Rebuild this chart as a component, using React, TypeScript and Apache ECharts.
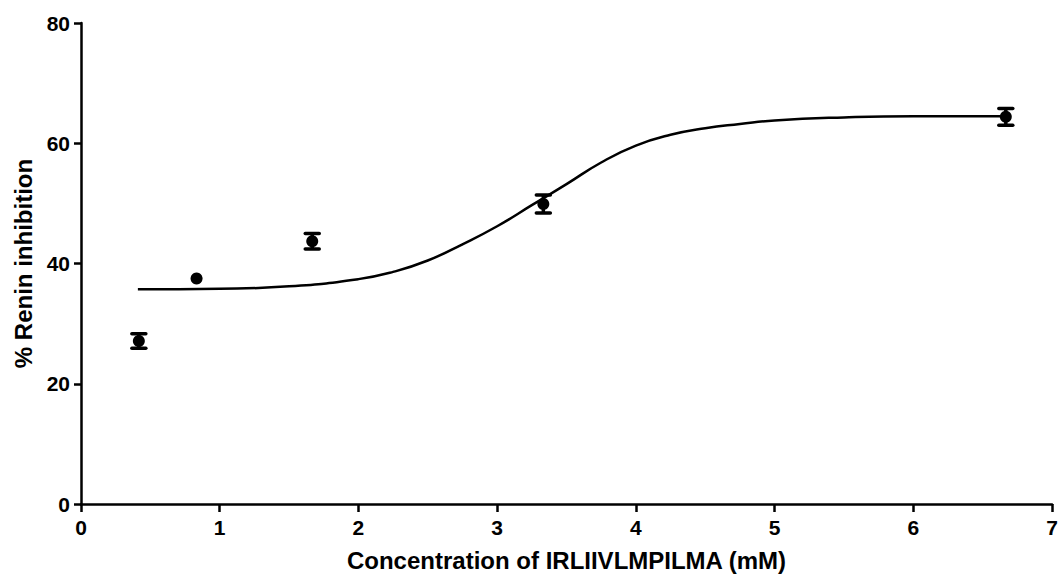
import React, { useEffect, useRef } from "react";
import * as echarts from "echarts";

const concentrations = [0.417, 0.833, 1.667, 3.333, 6.667];
const inhibitionMeans = [27.1, 37.5, 43.7, 49.9, 64.4];
const inhibitionErrors = [1.2, 0, 1.3, 1.5, 1.4];

const fitX = [0.41, 1.0, 1.5, 2.0, 2.25, 2.5, 2.75, 3.0, 3.25, 3.5, 3.75, 4.0, 4.25, 4.5, 4.75, 5.0, 5.5, 6.0, 6.69];
const fitY = [35.7, 35.8, 36.2, 37.4, 38.6, 40.5, 43.2, 46.2, 49.7, 53.2, 56.8, 59.6, 61.4, 62.5, 63.2, 63.8, 64.3, 64.5, 64.5];

const xTicks = [0, 1, 2, 3, 4, 5, 6, 7];
const yTicks = [0, 20, 40, 60, 80];

const FONT = "'Liberation Sans', Arial, Helvetica, sans-serif";

export default function App() {
  const ref = useRef<HTMLDivElement>(null);
  useEffect(() => {
    if (!ref.current) return;
    const chart = echarts.init(ref.current, null, { renderer: "svg" });
    const axisStyle = { color: "#000", width: 2.5 };
    chart.setOption({
      animation: false,
      backgroundColor: "#fff",
      grid: { left: 81, right: 11, top: 23, bottom: 73, containLabel: false },
      xAxis: {
        type: "value",
        min: xTicks[0],
        max: xTicks[xTicks.length - 1],
        interval: 1,
        name: "Concentration of IRLIIVLMPILMA (mM)",
        nameLocation: "middle",
        nameGap: 44,
        nameTextStyle: { fontFamily: FONT, fontWeight: "bold", fontSize: 24, color: "#000" },
        axisLine: { lineStyle: axisStyle, onZero: false },
        axisTick: { show: true, inside: false, length: 8, lineStyle: axisStyle },
        axisLabel: { fontFamily: FONT, fontWeight: "bold", fontSize: 21, color: "#000", margin: 13 },
        splitLine: { show: false },
      },
      yAxis: {
        type: "value",
        min: yTicks[0],
        max: yTicks[yTicks.length - 1],
        interval: 20,
        name: "% Renin inhibition",
        nameLocation: "middle",
        nameGap: 46,
        nameRotate: 90,
        nameTextStyle: { fontFamily: FONT, fontWeight: "bold", fontSize: 24, color: "#000" },
        axisLine: { show: true, lineStyle: axisStyle, onZero: false },
        axisTick: { show: true, inside: false, length: 7, lineStyle: axisStyle },
        axisLabel: { fontFamily: FONT, fontWeight: "bold", fontSize: 21, color: "#000", margin: 11 },
        splitLine: { show: false },
      },
      series: [
        {
          type: "line",
          data: fitX.map((x, i) => [x, fitY[i]]),
          smooth: 0.5,
          showSymbol: false,
          symbol: "none",
          lineStyle: { color: "#000", width: 2.5 },
          z: 2,
        },
        {
          type: "custom",
          data: concentrations.map((x, i) => [x, inhibitionMeans[i], inhibitionErrors[i]]),
          renderItem: (params: any, api: any) => {
            const x = api.value(0);
            const m = api.value(1);
            const e = api.value(2);
            if (!e) return { type: "group", children: [] };
            const top = api.coord([x, m + e]);
            const bot = api.coord([x, m - e]);
            const hw = 7;
            const st = { stroke: "#000", lineWidth: 3.5 };
            return {
              type: "group",
              children: [
                { type: "line", shape: { x1: top[0], y1: top[1], x2: bot[0], y2: bot[1] }, style: st },
                { type: "line", shape: { x1: top[0] - hw, y1: top[1], x2: top[0] + hw, y2: top[1] }, style: { ...st, lineCap: "round" } },
                { type: "line", shape: { x1: bot[0] - hw, y1: bot[1], x2: bot[0] + hw, y2: bot[1] }, style: { ...st, lineCap: "round" } },
              ],
            };
          },
          z: 3,
        },
        {
          type: "scatter",
          data: concentrations.map((x, i) => [x, inhibitionMeans[i]]),
          symbol: "circle",
          symbolSize: 12,
          itemStyle: { color: "#000", opacity: 1 },
          z: 4,
        },
      ],
    });
    return () => chart.dispose();
  }, []);
  return <div ref={ref} style={{ width: 1063, height: 577, position: "absolute", left: 0, top: 0 }} />;
}
